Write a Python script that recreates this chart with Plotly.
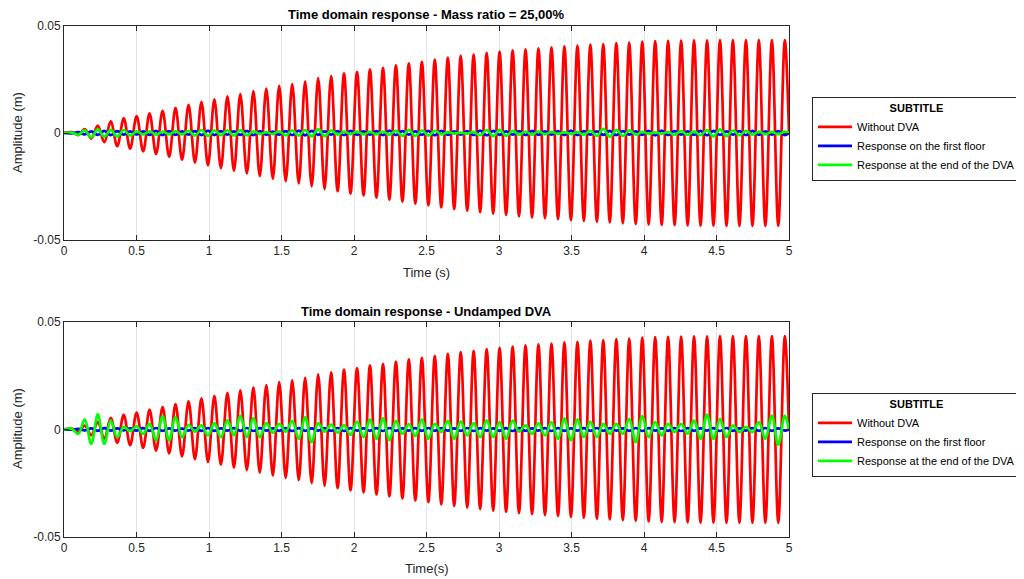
import plotly.graph_objects as go

# ---------------- data ----------------
# times of successive extrema (s), shared by all series
t_ext = [
    0.054, 0.099, 0.143, 0.188, 0.233, 0.278, 0.322, 0.367, 0.412, 0.456,
    0.501, 0.546, 0.590, 0.635, 0.680, 0.725, 0.769, 0.814, 0.859, 0.903,
    0.948, 0.993, 1.037, 1.082, 1.127, 1.172, 1.216, 1.261, 1.306, 1.350,
    1.395, 1.440, 1.484, 1.529, 1.574, 1.619, 1.663, 1.708, 1.753, 1.797,
    1.842, 1.887, 1.931, 1.976, 2.021, 2.066, 2.110, 2.155, 2.200, 2.244,
    2.289, 2.334, 2.378, 2.423, 2.468, 2.513, 2.557, 2.602, 2.647, 2.691,
    2.736, 2.781, 2.825, 2.870, 2.915, 2.960, 3.004, 3.049, 3.094, 3.138,
    3.183, 3.228, 3.272, 3.317, 3.362, 3.407, 3.451, 3.496, 3.541, 3.585,
    3.630, 3.675, 3.719, 3.764, 3.809, 3.854, 3.898, 3.943, 3.988, 4.032,
    4.077, 4.122, 4.166, 4.211, 4.256, 4.301, 4.345, 4.390, 4.435, 4.479,
    4.524, 4.569, 4.613, 4.658, 4.703, 4.748, 4.792, 4.837, 4.882, 4.926,
    4.971,
]

# Without DVA (same in both panels), extremum values (m)
red_without_dva = [
    0.0004, -0.0010, 0.0018, -0.0026, 0.0034, -0.0043, 0.0054, -0.0062, 0.0068, -0.0073,
    0.0079, -0.0086, 0.0092, -0.0098, 0.0104, -0.0111, 0.0118, -0.0125, 0.0131, -0.0138,
    0.0145, -0.0151, 0.0157, -0.0164, 0.0171, -0.0177, 0.0182, -0.0189, 0.0196, -0.0201,
    0.0207, -0.0214, 0.0220, -0.0225, 0.0229, -0.0235, 0.0240, -0.0249, 0.0257, -0.0262,
    0.0266, -0.0272, 0.0279, -0.0283, 0.0286, -0.0292, 0.0298, -0.0302, 0.0305, -0.0311,
    0.0316, -0.0321, 0.0326, -0.0330, 0.0333, -0.0338, 0.0343, -0.0348, 0.0352, -0.0356,
    0.0360, -0.0363, 0.0366, -0.0370, 0.0374, -0.0377, 0.0380, -0.0383, 0.0386, -0.0389,
    0.0391, -0.0394, 0.0396, -0.0398, 0.0400, -0.0403, 0.0405, -0.0407, 0.0408, -0.0411,
    0.0413, -0.0415, 0.0416, -0.0418, 0.0420, -0.0422, 0.0423, -0.0425, 0.0427, -0.0428,
    0.0430, -0.0430, 0.0431, -0.0431, 0.0432, -0.0432, 0.0433, -0.0433, 0.0433, -0.0433,
    0.0434, -0.0434, 0.0434, -0.0434, 0.0434, -0.0434, 0.0434, -0.0434, 0.0434, -0.0434,
    0.0434,
]

# Mass ratio = 25,00 % : response on the first floor
blue_top = [
    -0.0002, 0.0004, -0.0006, 0.0008, -0.0009, 0.0010, -0.0010, 0.0009, -0.0008, 0.0008,
    -0.0007, 0.0008, -0.0009, 0.0010, -0.0010, 0.0009, -0.0009, 0.0008, -0.0008, 0.0009,
    -0.0010, 0.0011, -0.0010, 0.0009, -0.0008, 0.0008, -0.0009, 0.0010, -0.0010, 0.0009,
    -0.0008, 0.0007, -0.0008, 0.0009, -0.0010, 0.0011, -0.0011, 0.0010, -0.0009, 0.0008,
    -0.0008, 0.0009, -0.0010, 0.0010, -0.0009, 0.0008, -0.0008, 0.0009, -0.0010, 0.0011,
    -0.0010, 0.0009, -0.0008, 0.0008, -0.0009, 0.0010, -0.0011, 0.0010, -0.0009, 0.0008,
    -0.0008, 0.0009, -0.0010, 0.0011, -0.0011, 0.0010, -0.0009, 0.0008, -0.0008, 0.0009,
    -0.0010, 0.0010, -0.0009, 0.0008, -0.0008, 0.0009, -0.0010, 0.0011, -0.0010, 0.0009,
    -0.0008, 0.0008, -0.0009, 0.0010, -0.0010, 0.0009, -0.0008, 0.0008, -0.0009, 0.0010,
    -0.0011, 0.0011, -0.0010, 0.0009, -0.0008, 0.0008, -0.0009, 0.0010, -0.0011, 0.0010,
    -0.0009, 0.0008, -0.0008, 0.0009, -0.0010, 0.0010, -0.0009, 0.0008, -0.0008, 0.0009,
    -0.0010,
]

# Mass ratio = 25,00 % : response at the end of the DVA
green_top = [
    0.0002, -0.0008, 0.0012, -0.0020, 0.0017, -0.0017, 0.0015, -0.0017, 0.0014, -0.0012,
    0.0008, -0.0007, 0.0008, -0.0008, 0.0007, -0.0006, 0.0008, -0.0007, 0.0010, -0.0012,
    0.0014, -0.0014, 0.0012, -0.0010, 0.0012, -0.0012, 0.0013, -0.0011, 0.0008, -0.0005,
    0.0004, -0.0005, 0.0008, -0.0011, 0.0012, -0.0012, 0.0014, -0.0016, 0.0018, -0.0015,
    0.0012, -0.0008, 0.0006, -0.0005, 0.0006, -0.0006, 0.0005, -0.0006, 0.0007, -0.0008,
    0.0010, -0.0014, 0.0015, -0.0014, 0.0012, -0.0012, 0.0010, -0.0006, 0.0004, -0.0003,
    0.0002, -0.0003, 0.0005, -0.0010, 0.0014, -0.0015, 0.0015, -0.0013, 0.0010, -0.0008,
    0.0007, -0.0008, 0.0008, -0.0006, 0.0005, -0.0004, 0.0004, -0.0005, 0.0005, -0.0008,
    0.0010, -0.0014, 0.0019, -0.0017, 0.0015, -0.0014, 0.0012, -0.0008, 0.0005, -0.0004,
    0.0003, -0.0004, 0.0005, -0.0008, 0.0009, -0.0009, 0.0008, -0.0010, 0.0013, -0.0016,
    0.0017, -0.0015, 0.0012, -0.0011, 0.0010, -0.0008, 0.0006, -0.0006, 0.0005, -0.0006,
    0.0006,
]

# Undamped DVA : response on the first floor
blue_bottom = [
    -0.0001, 0.0003, -0.0004, 0.0005, -0.0006, 0.0006, -0.0005, 0.0005, -0.0004, 0.0005,
    -0.0005, 0.0006, -0.0006, 0.0007, -0.0006, 0.0005, -0.0005, 0.0004, -0.0005, 0.0006,
    -0.0006, 0.0007, -0.0006, 0.0005, -0.0005, 0.0006, -0.0006, 0.0007, -0.0007, 0.0006,
    -0.0005, 0.0005, -0.0006, 0.0006, -0.0007, 0.0006, -0.0006, 0.0005, -0.0005, 0.0006,
    -0.0006, 0.0007, -0.0007, 0.0006, -0.0005, 0.0005, -0.0006, 0.0006, -0.0007, 0.0007,
    -0.0006, 0.0005, -0.0005, 0.0006, -0.0006, 0.0007, -0.0006, 0.0006, -0.0005, 0.0005,
    -0.0006, 0.0007, -0.0007, 0.0006, -0.0005, 0.0005, -0.0006, 0.0006, -0.0007, 0.0006,
    -0.0006, 0.0005, -0.0005, 0.0006, -0.0007, 0.0007, -0.0006, 0.0005, -0.0005, 0.0006,
    -0.0006, 0.0007, -0.0006, 0.0006, -0.0005, 0.0005, -0.0006, 0.0007, -0.0007, 0.0006,
    -0.0005, 0.0005, -0.0006, 0.0006, -0.0007, 0.0006, -0.0006, 0.0005, -0.0005, 0.0006,
    -0.0007, 0.0007, -0.0006, 0.0005, -0.0005, 0.0006, -0.0006, 0.0007, -0.0006, 0.0005,
    -0.0005,
]

# Undamped DVA : response at the end of the DVA
green_bottom = [
    0.0003, -0.0020, 0.0047, -0.0067, 0.0070, -0.0067, 0.0042, -0.0036, 0.0012, -0.0008,
    0.0015, -0.0020, 0.0026, -0.0050, 0.0062, -0.0051, 0.0058, -0.0036, 0.0022, -0.0010,
    0.0019, -0.0028, 0.0030, -0.0036, 0.0042, -0.0028, 0.0065, -0.0036, 0.0053, -0.0036,
    0.0030, -0.0015, 0.0026, -0.0010, 0.0040, -0.0044, 0.0058, -0.0059, 0.0030, -0.0010,
    0.0023, -0.0015, 0.0020, -0.0025, 0.0037, -0.0036, 0.0047, -0.0044, 0.0053, -0.0051,
    0.0040, -0.0020, 0.0025, -0.0030, 0.0047, -0.0044, 0.0026, -0.0012, 0.0040, -0.0044,
    0.0038, -0.0028, 0.0030, -0.0036, 0.0042, -0.0036, 0.0034, -0.0044, 0.0042, -0.0010,
    0.0019, -0.0020, 0.0030, -0.0028, 0.0034, -0.0044, 0.0053, -0.0051, 0.0047, -0.0036,
    0.0037, -0.0036, 0.0026, -0.0020, 0.0026, -0.0020, 0.0050, -0.0059, 0.0062, -0.0036,
    0.0034, -0.0028, 0.0026, -0.0012, 0.0026, -0.0020, 0.0042, -0.0044, 0.0069, -0.0044,
    0.0050, -0.0036, 0.0019, -0.0012, 0.0012, -0.0012, 0.0034, -0.0044, 0.0065, -0.0072,
    0.0065,
]

t_start, t_end = 0.0, 5.0
y_start, y_end = 0.0, 0.0

x_tick_vals = [0, 0.5, 1, 1.5, 2, 2.5, 3, 3.5, 4, 4.5, 5]
x_tick_labels = ["0", "0.5", "1", "1.5", "2", "2.5", "3", "3.5", "4", "4.5", "5"]
y_tick_vals = [-0.05, 0, 0.05]
y_tick_labels = ["-0.05", "0", "0.05"]

series_names = ["Without DVA", "Response on the first floor", "Response at the end of the DVA"]
titles = ["Time domain response - Mass ratio = 25,00%", "Time domain response - Undamped DVA"]
x_titles = ["Time (s)", "Time(s)"]
y_title = "Amplitude (m)"
legend_title = "SUBTITLE"

for s in (red_without_dva, blue_top, green_top, blue_bottom, green_bottom):
    assert len(s) == len(t_ext), len(s)

# ---------------- figure ----------------
FONT = "Liberation Sans, Arial, Helvetica, sans-serif"
INK = "#262626"
colors = ["#FF0000", "#0000FF", "#00FF00"]

x_all = [t_start] + t_ext + [t_end]

def full(vals):
    return [y_start] + vals + [y_end]

fig = go.Figure()
panels = [
    ("x", "y", "legend", [red_without_dva, blue_top, green_top]),
    ("x2", "y2", "legend2", [red_without_dva, blue_bottom, green_bottom]),
]
for xa, ya, lg, series in panels:
    for name, col, vals in zip(series_names, colors, series):
        fig.add_trace(go.Scatter(
            x=x_all, y=full(vals), mode="lines", name=name,
            line=dict(color=col, width=2.7, shape="spline", smoothing=1.0),
            xaxis=xa, yaxis=ya, legend=lg, hoverinfo="skip",
        ))

# geometry (window pixels; the page body adds an 8 px offset)
OFF = 8
W, H = 1024 - OFF, 579 - OFF
ML = 64 - OFF
MT = 26 - OFF
MR = W - (789 - OFF)
MB = H - (537 - OFF)
PH = H - MT - MB
PW = W - ML - MR

def py(pix):
    return (H - MB - (pix - OFF)) / PH

def px(pix):
    return (pix - OFF - ML) / PW

axis_common = dict(
    showline=True, linecolor=INK, linewidth=1, mirror="ticks",
    ticks="inside", ticklen=5, tickcolor=INK, tickwidth=1,
    tickfont=dict(size=12, color=INK, family=FONT), zeroline=False,
)
xcommon = dict(axis_common, range=[0, 5], tickmode="array", tickvals=x_tick_vals,
               ticktext=x_tick_labels, showgrid=True, gridcolor="#E3E3E3", gridwidth=1)
ycommon = dict(axis_common, range=[-0.05, 0.05], tickmode="array", tickvals=y_tick_vals,
               ticktext=y_tick_labels, showgrid=False)

legend_common = dict(
    x=px(812), xanchor="left", bgcolor="white", bordercolor=INK, borderwidth=1,
    font=dict(size=11, color="black", family=FONT), itemwidth=34,
    title=dict(text="<b>" + legend_title + "</b>", side="top center",
               font=dict(size=11, color="black", family=FONT)),
    itemclick=False, itemdoubleclick=False, tracegroupgap=0,
)

fig.update_layout(
    width=W, height=H, autosize=False,
    margin=dict(l=ML, r=MR, t=MT, b=MB, pad=0, autoexpand=False),
    paper_bgcolor="white", plot_bgcolor="white",
    font=dict(family=FONT, color=INK),
    xaxis=dict(xcommon, domain=[0, 1], anchor="y"),
    yaxis=dict(ycommon, domain=[py(240), 1], anchor="x"),
    xaxis2=dict(xcommon, domain=[0, 1], anchor="y2"),
    yaxis2=dict(ycommon, domain=[0, py(322)], anchor="x2"),
    legend=dict(legend_common, y=py(97), yanchor="top"),
    legend2=dict(legend_common, y=py(393), yanchor="top"),
    showlegend=True,
)

# separator line under the legend titles
shapes = []
for ysep in (118, 414):
    shapes.append(dict(type="line", xref="paper", yref="paper",
                       x0=px(812), x1=px(1040), y0=py(ysep), y1=py(ysep),
                       line=dict(color=INK, width=1)))
fig.update_layout(shapes=shapes)

ann_font_b = dict(size=13, color="black", family=FONT)
ann_font = dict(size=13, color=INK, family=FONT)
annotations = [
    dict(text="<b>" + titles[0] + "</b>", x=0.5, y=py(14), font=ann_font_b),
    dict(text="<b>" + titles[1] + "</b>", x=0.5, y=py(311), font=ann_font_b),
    dict(text=x_titles[0], x=0.5, y=py(272), font=ann_font),
    dict(text=x_titles[1], x=0.5, y=py(568), font=ann_font),
    dict(text=y_title, x=px(17), y=py(133), textangle=-90, font=ann_font),
    dict(text=y_title, x=px(17), y=py(429), textangle=-90, font=ann_font),
]
for a in annotations:
    a.update(xref="paper", yref="paper", xanchor="center", yanchor="middle", showarrow=False)
fig.update_layout(annotations=annotations)

fig.write_html("out.html", config={"displayModeBar": False})
